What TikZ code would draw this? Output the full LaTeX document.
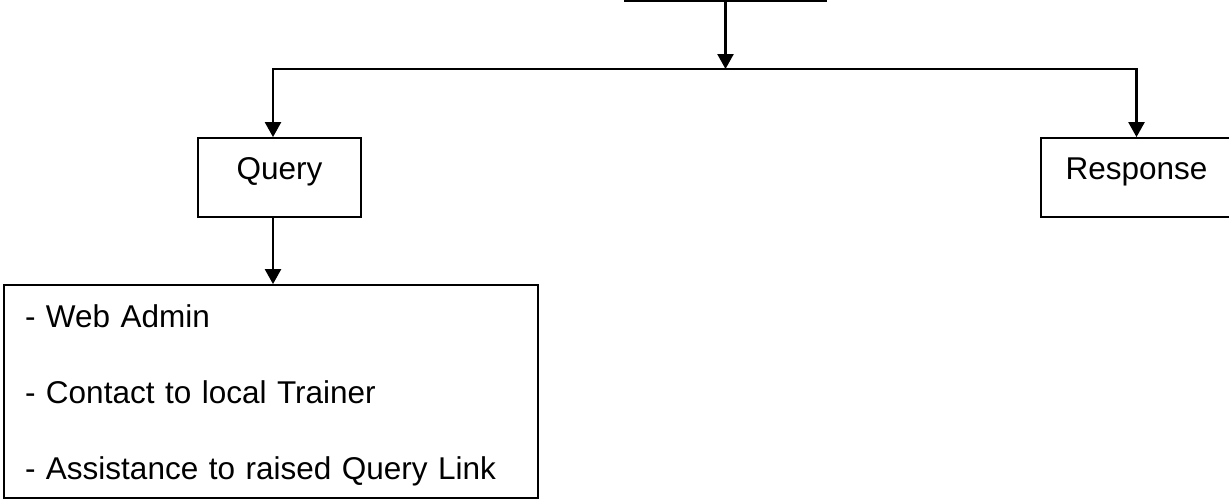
\documentclass[tikz,border=0pt]{standalone}
\usepackage{fontspec}
\setmainfont{Liberation Sans}
\usetikzlibrary{arrows.meta}

\tikzset{
    box/.style={draw, line width=1.8pt, fill=white, inner sep=0pt, font=\fontsize{31.5}{76}\selectfont},
    tag/.style={box, minimum height=79pt, text depth=18pt},
    link/.style={line width=2.4pt},
    arr/.style={link, -{Triangle[length=15pt, width=16pt]}, shorten >=0pt}
}

\begin{document}
\begin{tikzpicture}[x=1pt, y=-1pt]
    \useasboundingbox (0, 0) rectangle (1229, 501);

    \node[box, minimum width=201pt, minimum height=62pt] (top) at (725.5, -30) {};
    \node[tag, minimum width=163pt] (query) at (279.5, 177.5) {Query};
    \node[tag, minimum width=191pt] (resp) at (1136.5, 177.5) {Response};
    \node[box, minimum width=534pt, minimum height=213pt, text width=492pt, align=left] (list) at (271, 391.5)
        {\rule{0pt}{31pt}- Web Admin\\- Contact to local Trainer\\- Assistance to raised Query Link};

    \coordinate (split) at (top.south |- 0, 69);
    \coordinate (qin) at ([xshift=-6.5pt]query.north);
    \coordinate (qout) at ([xshift=-6.5pt]query.south);

    \draw[arr] (top) -- (split);
    \draw[arr] (split) -| (qin);
    \draw[arr] (split) -| (resp);
    \draw[arr] (qout) -- (qout |- list.north);
\end{tikzpicture}
\end{document}
